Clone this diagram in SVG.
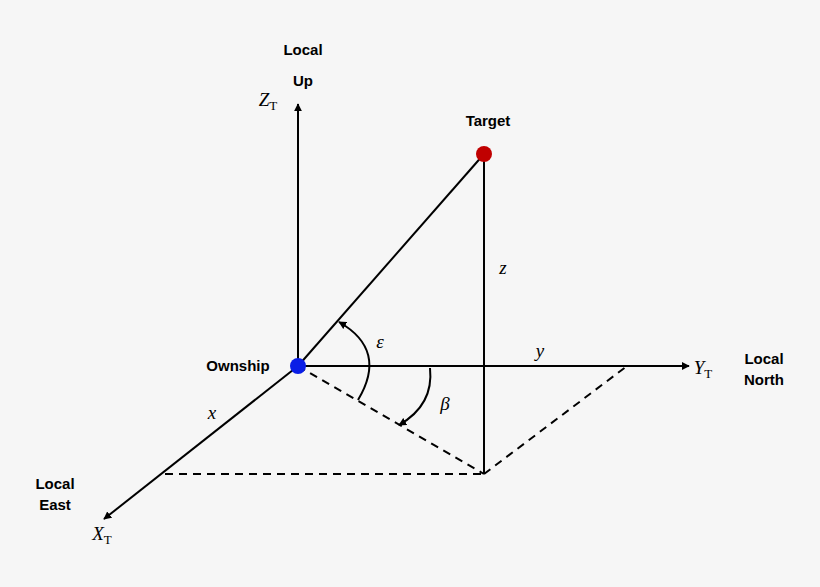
<svg xmlns="http://www.w3.org/2000/svg" width="820" height="587" viewBox="0 0 820 587">
<defs>
<marker id="ah" viewBox="0 0 10 10" refX="9" refY="5" markerWidth="8" markerHeight="8" orient="auto-start-reverse" markerUnits="userSpaceOnUse"><path d="M0,0 L10,5 L0,10 z" fill="#000"/></marker>
<style>
.l{stroke:#000;stroke-width:2;fill:none}
.d{stroke:#000;stroke-width:2;fill:none;stroke-dasharray:8,6}
.b{font-family:"Liberation Sans",Arial,sans-serif;font-weight:bold;font-size:15px;text-anchor:middle}
.m{font-family:"Liberation Serif","Times New Roman",serif;font-style:italic;font-size:19px;text-anchor:middle}
.s{font-style:normal;font-size:13px}
</style>
</defs>
<rect width="820" height="587" fill="#f6f6f6"/>
<g id="connectors">
<line class="l" x1="298" y1="366" x2="298" y2="104" marker-end="url(#ah)"/>
<line class="l" x1="298" y1="366" x2="689" y2="366" marker-end="url(#ah)"/>
<line class="l" x1="298" y1="366" x2="104" y2="519" marker-end="url(#ah)"/>
<line class="l" x1="298" y1="366" x2="484" y2="154"/>
<line class="l" x1="484" y1="154" x2="484" y2="474"/>
<line class="d" x1="298" y1="366" x2="484" y2="474"/>
<line class="d" x1="165" y1="474" x2="484" y2="474"/>
<line class="d" x1="484" y1="474" x2="627" y2="366"/>
<path class="l" d="M358 400 Q388 350 339 322" marker-end="url(#ah)"/>
<path class="l" d="M430 368 Q434 405 399 425" marker-end="url(#ah)"/>
</g>
<g id="ownship"><circle cx="298" cy="366" r="8" fill="#0a1ee6"/><text class="b" x="238" y="371">Ownship</text></g>
<g id="target"><circle cx="484" cy="154" r="8" fill="#c00000"/><text class="b" x="488" y="126">Target</text></g>
<g id="labels">
<text class="b" x="303" y="55">Local</text>
<text class="b" x="303" y="86">Up</text>
<text class="m" x="268" y="106">Z<tspan class="s" dy="4">T</tspan></text>
<text class="m" x="503" y="274">z</text>
<text class="m" x="380" y="348">ε</text>
<text class="m" x="445" y="410">β</text>
<text class="m" x="540" y="357">y</text>
<text class="m" x="703" y="374">Y<tspan class="s" dy="4">T</tspan></text>
<text class="b" x="764" y="364">Local</text>
<text class="b" x="764" y="385">North</text>
<text class="m" x="212" y="419">x</text>
<text class="b" x="55" y="489">Local</text>
<text class="b" x="55" y="510">East</text>
<text class="m" x="102" y="540">X<tspan class="s" dy="4">T</tspan></text>
</g>
</svg>
